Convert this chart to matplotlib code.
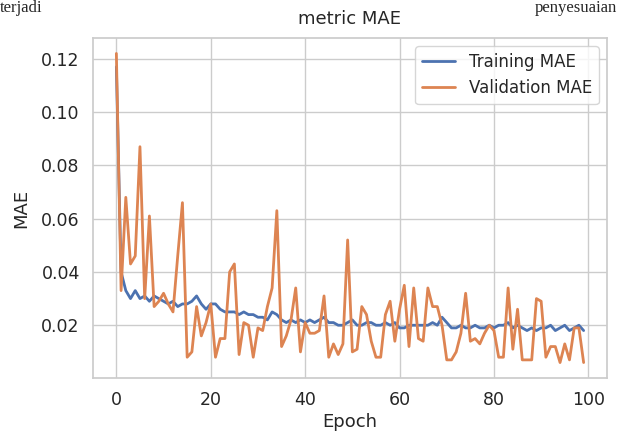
import matplotlib
matplotlib.use("Agg")
import matplotlib.pyplot as plt
import seaborn as sns

epochs = list(range(100))

train_mae = [
    0.117, 0.040, 0.033, 0.030, 0.033, 0.030, 0.031, 0.029, 0.031, 0.030,
    0.029, 0.028, 0.029, 0.027, 0.028, 0.028, 0.029, 0.031, 0.028, 0.026,
    0.028, 0.028, 0.026, 0.025, 0.025, 0.025, 0.024, 0.025, 0.024, 0.024,
    0.023, 0.023, 0.022, 0.025, 0.024, 0.022, 0.021, 0.022, 0.021, 0.022,
    0.021, 0.022, 0.021, 0.022, 0.023, 0.021, 0.021, 0.020, 0.020, 0.021,
    0.022, 0.020, 0.020, 0.021, 0.021, 0.020, 0.020, 0.021, 0.020, 0.021,
    0.019, 0.019, 0.020, 0.020, 0.020, 0.020, 0.020, 0.021, 0.020, 0.023,
    0.021, 0.019, 0.019, 0.020, 0.019, 0.019, 0.020, 0.019, 0.019, 0.020,
    0.019, 0.020, 0.020, 0.021, 0.019, 0.020, 0.019, 0.018, 0.019, 0.018,
    0.019, 0.019, 0.020, 0.018, 0.019, 0.020, 0.018, 0.019, 0.020, 0.018,
]

val_mae = [
    0.122, 0.033, 0.068, 0.043, 0.046, 0.087, 0.030, 0.061, 0.027, 0.029,
    0.032, 0.028, 0.025, 0.046, 0.066, 0.008, 0.010, 0.027, 0.016, 0.021,
    0.028, 0.008, 0.015, 0.015, 0.040, 0.043, 0.009, 0.021, 0.020, 0.008,
    0.019, 0.018, 0.027, 0.034, 0.063, 0.012, 0.016, 0.022, 0.034, 0.010,
    0.021, 0.017, 0.017, 0.018, 0.031, 0.008, 0.013, 0.009, 0.013, 0.052,
    0.010, 0.011, 0.027, 0.024, 0.014, 0.008, 0.008, 0.024, 0.029, 0.014,
    0.026, 0.035, 0.012, 0.034, 0.015, 0.014, 0.034, 0.027, 0.027, 0.020,
    0.007, 0.007, 0.010, 0.017, 0.032, 0.014, 0.015, 0.013, 0.017, 0.020,
    0.018, 0.008, 0.008, 0.034, 0.011, 0.026, 0.007, 0.007, 0.007, 0.030,
    0.029, 0.008, 0.012, 0.012, 0.006, 0.013, 0.007, 0.019, 0.019, 0.006,
]

sns.set_theme(style="whitegrid", palette="deep")
plt.rcParams["font.family"] = ["DejaVu Sans"]

fig = plt.figure(figsize=(6.17, 4.32), dpi=100)
ax = fig.add_axes([93 / 617, 1 - 378 / 432, 514 / 617, 340 / 432])

ax.plot(epochs, train_mae, label="Training MAE", lw=2)
ax.plot(epochs, val_mae, label="Validation MAE", lw=2)

ax.set_title("metric MAE", fontsize=13, color="#262626", pad=10)
ax.set_xlabel("Epoch", fontsize=13, labelpad=3)
ax.set_ylabel("MAE", fontsize=13, labelpad=8)
ax.tick_params(labelsize=12.5)
ax.set_xticks([0, 20, 40, 60, 80, 100])
ax.legend(loc="upper right", fontsize=12)

# bits of document text at the top of the screenshot
fig.text(0.0, 1 - 12 / 432, "terjadi", family="Liberation Serif", fontsize=12,
         va="baseline", ha="left")
fig.text(1.0, 1 - 12 / 432, "penyesuaian", family="Liberation Serif", fontsize=12,
         va="baseline", ha="right")

fig.savefig("out.png", dpi=100)
